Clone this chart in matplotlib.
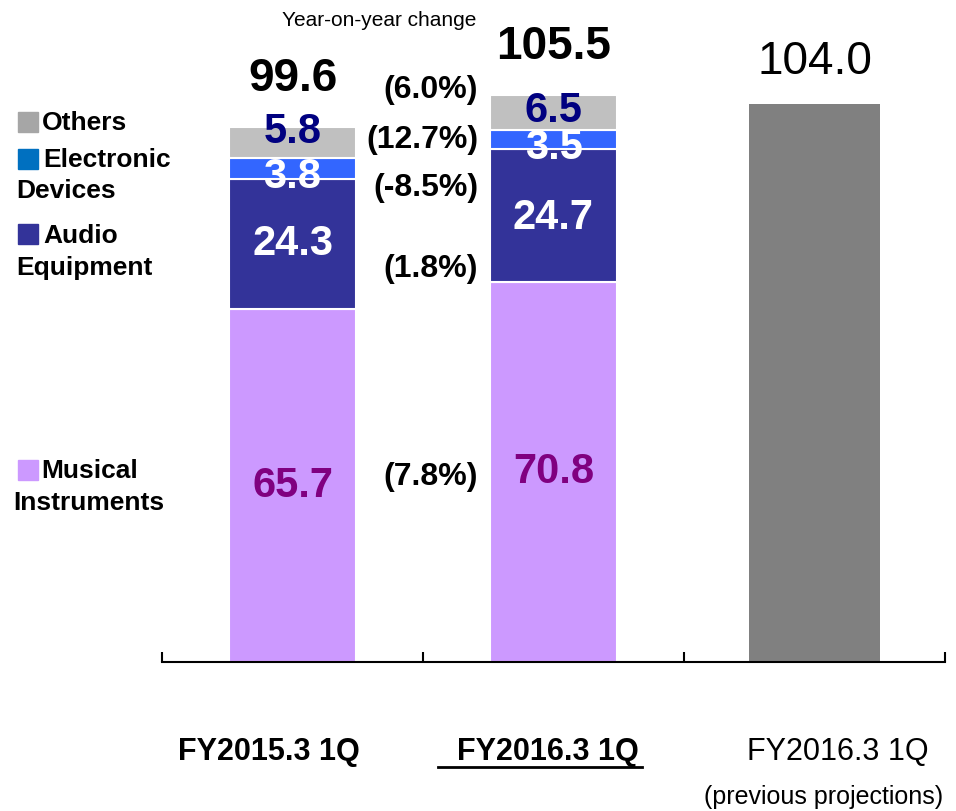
import matplotlib
matplotlib.use("Agg")
import matplotlib.pyplot as plt
from matplotlib.patches import Rectangle
from matplotlib.lines import Line2D

plt.rcParams['font.family'] = ['Liberation Sans', 'DejaVu Sans']

# Net sales by segment (billion yen)
periods = ["FY2015.3 1Q", "FY2016.3 1Q"]
musical = [65.7, 70.8]
audio = [24.3, 24.7]
electronic = [3.8, 3.5]
others = [5.8, 6.5]
totals = [99.6, 105.5]
projection = 104.0
yoy_labels = ["(6.0%)", "(12.7%)", "(-8.5%)", "(1.8%)", "(7.8%)"]

W, H = 956, 811


def px(x, y):
    # pixel position -> figure fraction
    return x / W, 1 - y / H


fig = plt.figure(figsize=(W / 100, H / 100), dpi=100)
ax = fig.add_axes([162 / W, 149 / H, 783 / W, 662 / H])
ax.set_xlim(-0.5, 2.5)
ax.set_ylim(0, 662 / 5.37)

x = [0, 1]
layers = [
    (musical, '#CC99FF', '#800080', [0, 0]),
    (audio, '#333399', 'white', [0, -0.5]),
    (electronic, '#3366FF', 'white', [-1.6, -1.6]),
    (others, '#C0C0C0', '#000080', [2.0, 0.4]),
]
bottom = [0, 0]
for vals, color, tcolor, shift in layers:
    ax.bar(x, vals, width=0.49, bottom=bottom, color=color,
           edgecolor='white', linewidth=1.5)
    for i, v in enumerate(vals):
        ax.text(x[i], bottom[i] + v / 2 + shift[i], f"{v:.1f}",
                ha='center', va='center', fontsize=30, fontweight='bold',
                color=tcolor)
    bottom = [b + v for b, v in zip(bottom, vals)]

ax.bar(2, projection, width=0.5, color='#808080')

for i, t in enumerate(totals):
    ax.text(x[i], t + 9.0, f"{t:.1f}", ha='center', va='center',
            fontsize=33, fontweight='bold')
ax.text(2, projection + 7.8, f"{projection:.1f}", ha='center', va='center',
        fontsize=33)

# year-on-year changes between the two stacks
ax.text(0.331, 119.4, "Year-on-year change", ha='center', va='center',
        fontsize=15)
for lab, y in zip(yoy_labels, [106.5, 97.2, 88.2, 73.2, 34.5]):
    ax.text(0.711, y, lab, ha='right', va='center', fontsize=23,
            fontweight='bold')

for s in ['top', 'left', 'right']:
    ax.spines[s].set_visible(False)
ax.spines['bottom'].set_linewidth(1.5)
ax.set_yticks([])
ax.set_xticks([-0.5, 0.5, 1.5, 2.5])
ax.tick_params(axis='x', direction='in', length=7, width=1.5,
               labelbottom=False)

# category labels
fig.text(*px(269, 752), periods[0], ha='center', va='center',
         fontsize=22, fontweight='bold')
fig.text(*px(548, 752), periods[1], ha='center', va='center',
         fontsize=22, fontweight='bold')
fig.add_artist(Line2D([438 / W, 642 / W], [1 - 767 / H, 1 - 767 / H],
                      color='black', linewidth=2))
fig.text(*px(838, 752), periods[1], ha='center', va='center', fontsize=22)
fig.text(*px(824, 797), "(previous projections)", ha='center',
         va='center', fontsize=18)

# legend drawn by hand beside the first bar
legend = [
    ('#A6A6A6', 112, [(42, 123, "Others")]),
    ('#0070C0', 149, [(43, 160, "Electronic"), (16, 191, "Devices")]),
    ('#333399', 224, [(43, 236, "Audio"), (16, 268, "Equipment")]),
    ('#CC99FF', 460, [(41, 471, "Musical"), (13, 503, "Instruments")]),
]
for color, top, lines in legend:
    x0, y0 = px(18, top + 20)
    fig.add_artist(Rectangle((x0, y0), 20 / W, 20 / H, color=color,
                             transform=fig.transFigure))
    for lx, ly, txt in lines:
        fig.text(*px(lx, ly), txt, ha='left', va='center', fontsize=19,
                 fontweight='bold')

fig.savefig("out.png", dpi=100)
